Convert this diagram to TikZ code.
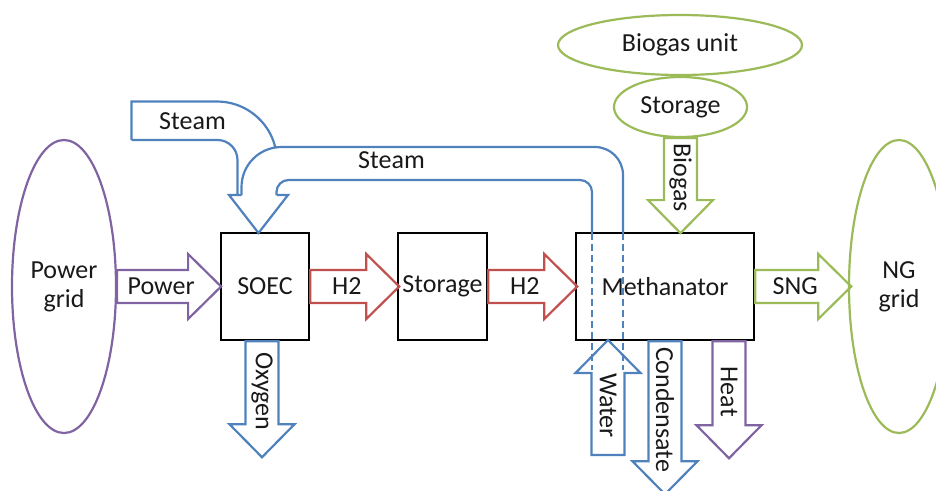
\documentclass[tikz,border=0pt]{standalone}
\usepackage{fontspec}
\setmainfont{Carlito}
\usetikzlibrary{shapes.geometric}

\definecolor{purplec}{HTML}{8064A2}
\definecolor{redc}{HTML}{C0504D}
\definecolor{greenc}{HTML}{9BBB59}
\definecolor{bluec}{HTML}{4F81BD}

% hollow block arrow: name, colour, tail, direction, length, text rotation, label
\newcommand{\blockarrow}[7]{%
  \begin{scope}[shift={#3}, rotate=#4]
    \draw[flow, draw=#2] (0,-16.5) -- ({#5-33},-16.5) -- ({#5-33},-32.5) -- (#5,0)
      -- ({#5-33},32.5) -- ({#5-33},16.5) -- (0,16.5) -- cycle;
    \node[rotate=#6] (#1) at ({#5/2-8},0) {#7};
  \end{scope}}

\begin{document}
\begin{tikzpicture}[x=1pt, y=-1pt,
  every node/.style={font=\fontsize{26}{29}\selectfont, text=black!90},
  unit/.style={draw, line width=2.5pt, minimum width=#1, minimum height=107, inner sep=0pt},
  pool/.style={draw=#1, ellipse, line width=2.2pt, inner sep=0pt, align=center},
  flow/.style={line width=2.2pt},
  steam/.style={flow, draw=bluec}]
  \useasboundingbox (0,0) rectangle (936,490);

  % sources and sinks
  \node[pool=purplec, minimum width=104, minimum height=293] (grid) at (64,286.5) {Power\\grid};
  \node[pool=greenc, minimum width=100, minimum height=293] (ngrid) at (899,286.5) {NG\\grid};
  \node[pool=greenc, minimum width=244, minimum height=60] (biogas) at (680,45) {Biogas unit};
  \node[pool=greenc, minimum width=133, minimum height=60] (bstore) at (680.5,107) {Storage};

  % units
  \node[unit=88] (soec) at (265,286.5) {SOEC};
  \node[unit=89] (stor) at (442.5,286.5) {Storage};
  \node[unit=178] (meth) at (665,286.5) {Methanator};

  % main flows
  \blockarrow{power}{purplec}{(grid.east)}{0}{104}{0}{Power}
  \blockarrow{htwoa}{redc}{(soec.east)}{0}{89}{0}{H2}
  \blockarrow{htwob}{redc}{(stor.east)}{0}{89}{0}{H2}
  \blockarrow{sng}{greenc}{(meth.east)}{0}{96}{0}{SNG}
  \blockarrow{oxygen}{bluec}{([xshift=-3pt]soec.south)}{-90}{116}{-90}{Oxygen}
  \blockarrow{biogasin}{greenc}{(bstore.south)}{-90}{95}{-90}{Biogas}
  \blockarrow{water}{bluec}{(608,455)}{90}{115}{-90}{Water}
  \blockarrow{condensate}{bluec}{(meth.south)}{-90}{153}{-90}{Condensate}
  \blockarrow{heat}{purplec}{([xshift=64pt]meth.south)}{-90}{117}{-90}{Heat}

  % steam loop back to the SOEC
  \draw[steam, dashed, dash pattern=on 7pt off 4pt] (592,233) -- (592,370) (623,233) -- (623,370);
  \draw[steam, rounded corners=12] (592,233) -- (592,180) -- (276.5,180) -- (276.5,195);
  \draw[steam] (276.5,195) -- (288,195) -- (258.5,233) -- (229,195) -- (241.5,195);
  \draw[steam, rounded corners=40] (241.5,195) -- (241.5,147) -- (420,147);
  \draw[steam, rounded corners=28] (420,147) -- (623,147) -- (623,233);
  \node (steamloop) at (391.5,160) {Steam};

  % outside steam
  \draw[steam] (131.5,140) -- (131.5,101.5) -- (217,101.5) arc[start angle=270, end angle=346, radius=60];
  \draw[steam, rounded corners=20] (131.5,140) -- (237.5,140) -- (237.5,195);
  \node (steamin) at (192.5,121) {Steam};
\end{tikzpicture}
\end{document}
